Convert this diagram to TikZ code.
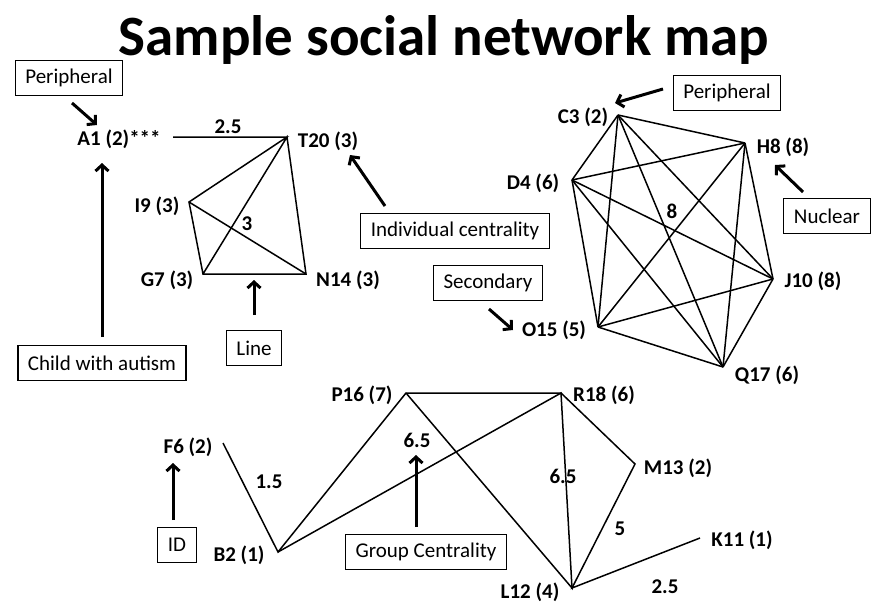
\documentclass[tikz,border=0pt]{standalone}
\usepackage{fontspec}
\setmainfont{Carlito}
\usetikzlibrary{arrows.meta}

\begin{document}
\begin{tikzpicture}[x=1pt,y=-1pt,>={Straight Barb[length=6pt,width=13pt]}]
    \tikzstyle{box}=[rectangle,draw,line width=1.1pt,inner xsep=10pt,minimum height=35pt,font=\fontsize{21}{24}\selectfont]
    \tikzstyle{lab}=[inner sep=0pt,font=\bfseries\fontsize{21}{24}\selectfont]
    \tikzstyle{edge}=[line width=1.5pt]
    \tikzstyle{arr}=[->,line width=3pt]
    \useasboundingbox (0,0) rectangle (871,606);
    \node[font=\bfseries\fontsize{57}{62}\selectfont] (title) at (444,40) {Sample social network map};
    % left group
    \coordinate (a1) at (173,137);
    \coordinate (t20) at (287,137);
    \coordinate (i9) at (189,202);
    \coordinate (g7) at (203,274);
    \coordinate (n14) at (306,274);
    \node[lab] (a1lab) at (119,139) {A1 (2)***};
    \node[lab] (t20lab) at (328,141) {T20 (3)};
    \node[lab] (i9lab) at (157,206) {I9 (3)};
    \node[lab] (g7lab) at (167,280) {G7 (3)};
    \node[lab] (n14lab) at (348,280) {N14 (3)};
    \draw[edge] (a1) -- (t20) -- (i9) -- (g7) -- (n14) -- (t20) -- (g7);
    \draw[edge] (i9) -- (n14);
    \node[lab] (w25a) at (228,127) {2.5};
    \node[lab] (w3) at (247,224) {3};
    % right group
    \coordinate (c3) at (618,115);
    \coordinate (h8) at (745,143);
    \coordinate (d4) at (572,180);
    \coordinate (j10) at (773,279);
    \coordinate (o15) at (598,327);
    \coordinate (q17) at (723,367);
    \node[lab] (c3lab) at (583,117) {C3 (2)};
    \node[lab] (h8lab) at (783,147) {H8 (8)};
    \node[lab] (d4lab) at (533,183) {D4 (6)};
    \node[lab] (j10lab) at (813,281) {J10 (8)};
    \node[lab] (o15lab) at (554,330) {O15 (5)};
    \node[lab] (q17lab) at (767,375) {Q17 (6)};
    \foreach \u/\v in {c3/h8,c3/d4,c3/j10,c3/o15,c3/q17,h8/d4,h8/j10,h8/o15,h8/q17,d4/j10,d4/o15,d4/q17,j10/o15,j10/q17,o15/q17}
        \draw[edge] (\u) -- (\v);
    \node[lab] (w8) at (672,211) {8};
    % bottom group
    \coordinate (f6) at (223,443);
    \coordinate (b2) at (278,552);
    \coordinate (p16) at (406,393);
    \coordinate (r18) at (561,393);
    \coordinate (m13) at (635,464);
    \coordinate (l12) at (572,588);
    \coordinate (k11) at (700,538);
    \node[lab] (f6lab) at (188,447) {F6 (2)};
    \node[lab] (b2lab) at (239,555) {B2 (1)};
    \node[lab] (p16lab) at (362,395) {P16 (7)};
    \node[lab] (r18lab) at (604,395) {R18 (6)};
    \node[lab] (m13lab) at (678,468) {M13 (2)};
    \node[lab] (l12lab) at (530,592) {L12 (4)};
    \node[lab] (k11lab) at (742,540) {K11 (1)};
    \draw[edge] (f6) -- (b2) -- (p16) -- (r18) -- (m13) -- (l12) -- (k11);
    \draw[edge] (b2) -- (r18) -- (l12) -- (p16);
    \node[lab] (w15) at (269,482) {1.5};
    \node[lab] (w65a) at (417,440) {6.5};
    \node[lab] (w65b) at (563,476) {6.5};
    \node[lab] (w5) at (620,529) {5};
    \node[lab] (w25b) at (665,587) {2.5};
    % boxes and pointers
    \node[box] (perL) at (69,78) {Peripheral};
    \node[box] (perR) at (727,93) {Peripheral};
    \node[box] (indiv) at (455,231) {Individual centrality};
    \node[box] (second) at (488,283) {Secondary};
    \node[box] (nuclear) at (827,216) {Nuclear};
    \node[box] (child) at (102,363) {Child with autism};
    \node[box] (line) at (254,348) {Line};
    \node[box] (id) at (177,545) {ID};
    \node[box] (group) at (426,552) {Group Centrality};
    \coordinate (perLtail) at (72,103);   \coordinate (perLtip) at (97,125);
    \coordinate (perRtail) at (663,89);   \coordinate (perRtip) at (615,103);
    \coordinate (indivtail) at (385,206); \coordinate (indivtip) at (350,155);
    \coordinate (secondtail) at (489,309);\coordinate (secondtip) at (513,330);
    \coordinate (nucleartail) at (803,192);\coordinate (nucleartip) at (775,165);
    \coordinate (childtail) at (102,337); \coordinate (childtip) at (102,163);
    \coordinate (linetail) at (254,315);  \coordinate (linetip) at (254,280);
    \coordinate (idtail) at (173,520);    \coordinate (idtip) at (173,463);
    \coordinate (grouptail) at (416,527); \coordinate (grouptip) at (416,455);
    \foreach \p in {perL,perR,indiv,second,nuclear,child,line,id,group}
        \draw[arr] (\p tail) -- (\p tip);
\end{tikzpicture}
\end{document}
